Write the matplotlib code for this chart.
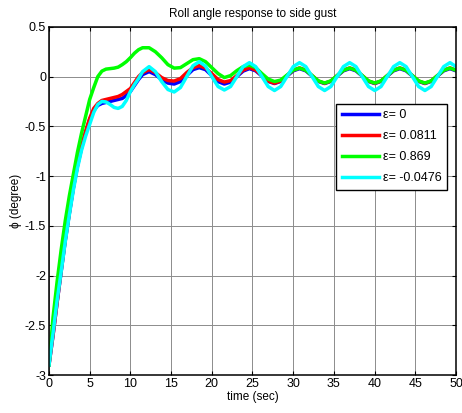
import numpy as np
import matplotlib
matplotlib.use("Agg")
import matplotlib.pyplot as plt

plt.rcParams['font.family'] = ['Liberation Sans', 'DejaVu Sans']
plt.rcParams['axes.unicode_minus'] = False

# time samples (sec): 0.5 s steps up to 11.5, then steps of ~1/8 oscillation period
t = [0, 0.5, 1.0, 1.5, 2.0, 2.5, 3.0, 3.5, 4.0, 4.5, 5.0, 5.5, 6.0, 6.5, 7.0, 7.5,
     8.0, 8.5, 9.0, 9.5, 10.0, 10.5, 11.0, 11.5,
     12.3, 13.07, 13.84, 14.61, 15.38, 16.15, 16.92, 17.69, 18.46, 19.23, 20.0,
     20.77, 21.54, 22.31, 23.08, 23.85, 24.62, 25.39, 26.16, 26.93, 27.7, 28.47,
     29.24, 30.01, 30.78, 31.55, 32.32, 33.09, 33.86, 34.63, 35.4, 36.17, 36.94,
     37.71, 38.48, 39.25, 40.02, 40.79, 41.56, 42.33, 43.1, 43.87, 44.64, 45.41,
     46.18, 46.95, 47.72, 48.49, 49.26, 50.0]

# roll angle phi (degree) for each epsilon
phi_eps0 = [-2.90, -2.60, -2.27, -1.96, -1.65, -1.38, -1.12, -0.90, -0.72, -0.56,
            -0.43, -0.34, -0.29, -0.27, -0.26, -0.25, -0.24, -0.23, -0.22, -0.19,
            -0.15, -0.09, -0.03, 0.02,
            0.05, 0.02, -0.03, -0.065, -0.075, -0.05, 0.01, 0.07, 0.09, 0.07, 0.01,
            -0.05, -0.075, -0.055, 0.0, 0.055, 0.08, 0.058, 0.005, -0.048, -0.07, -0.048,
            0.005, 0.058, 0.08, 0.058, 0.005, -0.048, -0.07, -0.048, 0.005, 0.058, 0.08,
            0.058, 0.005, -0.048, -0.07, -0.048, 0.005, 0.058, 0.08, 0.058, 0.005, -0.048,
            -0.07, -0.048, 0.005, 0.058, 0.08, 0.058]

phi_eps1 = [-2.90, -2.60, -2.27, -1.95, -1.64, -1.37, -1.11, -0.89, -0.70, -0.55,
            -0.42, -0.32, -0.27, -0.24, -0.23, -0.22, -0.21, -0.20, -0.18, -0.15,
            -0.12, -0.06, 0.0, 0.04,
            0.07, 0.04, -0.01, -0.04, -0.045, -0.02, 0.04, 0.09, 0.11, 0.085, 0.03,
            -0.03, -0.055, -0.04, 0.01, 0.065, 0.09, 0.065, 0.01, -0.045, -0.067, -0.045,
            0.01, 0.065, 0.087, 0.065, 0.01, -0.045, -0.067, -0.045, 0.01, 0.065, 0.087,
            0.065, 0.01, -0.045, -0.067, -0.045, 0.01, 0.065, 0.087, 0.065, 0.01, -0.045,
            -0.067, -0.045, 0.01, 0.065, 0.087, 0.065]

phi_eps2 = [-2.90, -2.42, -2.06, -1.74, -1.45, -1.20, -0.98, -0.76, -0.57, -0.40,
            -0.23, -0.11, 0.0, 0.055, 0.075, 0.08, 0.085, 0.095, 0.12, 0.15,
            0.19, 0.235, 0.27, 0.29,
            0.29, 0.25, 0.19, 0.12, 0.085, 0.09, 0.13, 0.17, 0.18, 0.15, 0.09,
            0.03, -0.01, 0.01, 0.06, 0.10, 0.115, 0.09, 0.03, -0.025, -0.05, -0.035,
            0.015, 0.065, 0.085, 0.063, 0.01, -0.043, -0.065, -0.043, 0.01, 0.063, 0.085,
            0.063, 0.01, -0.043, -0.065, -0.043, 0.01, 0.063, 0.085, 0.063, 0.01, -0.043,
            -0.065, -0.043, 0.01, 0.063, 0.085, 0.063]

phi_eps3 = [-2.90, -2.58, -2.25, -1.96, -1.66, -1.39, -1.14, -0.92, -0.74, -0.60,
            -0.48, -0.36, -0.28, -0.25, -0.255, -0.28, -0.31, -0.32, -0.30, -0.24,
            -0.15, -0.08, -0.02, 0.05,
            0.10, 0.05, -0.05, -0.13, -0.155, -0.11, 0.0, 0.11, 0.15, 0.105, 0.0,
            -0.10, -0.135, -0.10, 0.0, 0.10, 0.14, 0.10, 0.0, -0.10, -0.14, -0.10,
            0.0, 0.10, 0.14, 0.10, 0.0, -0.10, -0.14, -0.10, 0.0, 0.10, 0.14,
            0.10, 0.0, -0.10, -0.14, -0.10, 0.0, 0.10, 0.14, 0.10, 0.0, -0.10,
            -0.14, -0.10, 0.0, 0.10, 0.14, 0.10]

labels = ['\u03b5= 0', '\u03b5= 0.0811', '\u03b5= 0.869', '\u03b5= -0.0476']
colors = ['#0000ff', '#ff0000', '#00ff00', '#00ffff']

xticks = [0, 5, 10, 15, 20, 25, 30, 35, 40, 45, 50]
yticks = [0.5, 0, -0.5, -1, -1.5, -2, -2.5, -3]
ytick_labels = ['0.5', '0', '-0.5', '-1', '-1.5', '-2', '-2.5', '-3']

fig = plt.figure(figsize=(4.62, 4.13), dpi=100)
ax = fig.add_axes([0.106, 0.092, 0.881, 0.843])

for phi, lab, col in zip([phi_eps0, phi_eps1, phi_eps2, phi_eps3], labels, colors):
    ax.plot(t, phi, color=col, linewidth=2.5, label=lab, solid_joinstyle='round')

ax.set_xlim(0, 50)
ax.set_ylim(-3, 0.5)
ax.set_xticks(xticks)
ax.set_yticks(yticks)
ax.set_yticklabels(ytick_labels)
ax.grid(True, color='#8c8c8c', linewidth=0.7)
ax.set_axisbelow(True)
ax.tick_params(direction='in', top=True, right=True, length=3, width=0.8,
               labelsize=9, pad=2)
for s in ax.spines.values():
    s.set_linewidth(1.1)

ax.set_title('Roll angle response to side gust', fontsize=8.5, pad=7)
ax.set_xlabel('time (sec)', fontsize=8.5, labelpad=1)
ax.set_ylabel('\u03d5 (degree)', fontsize=8.5, labelpad=2)

leg = ax.legend(loc='upper right', bbox_to_anchor=(0.978, 0.779), fontsize=9,
                handlelength=2.95, handletextpad=0.3, borderpad=0.45,
                labelspacing=0.72, fancybox=False, framealpha=1,
                edgecolor='black', borderaxespad=0)
leg.get_frame().set_linewidth(1.0)
for line in leg.get_lines():
    line.set_linewidth(2.5)

fig.savefig('out.png', dpi=100)
